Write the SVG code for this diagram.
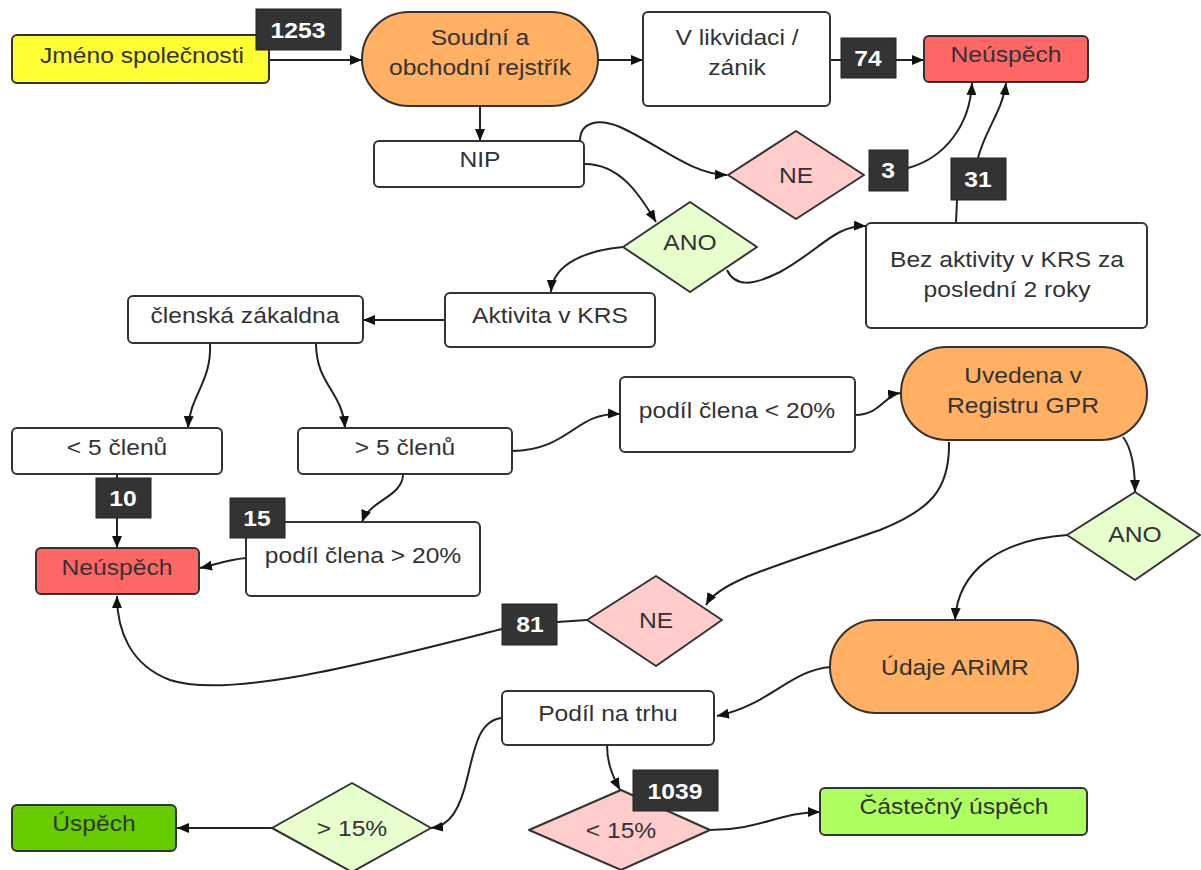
<svg xmlns="http://www.w3.org/2000/svg" width="1201" height="870" viewBox="0 0 1201 870">
<defs>
<marker id="ah" viewBox="0 0 12 10" refX="12" refY="5" markerWidth="12" markerHeight="10" markerUnits="userSpaceOnUse" orient="auto">
<path d="M0,0 L12,5 L0,10 Z" fill="#111"/>
</marker>
<style>
.n{stroke:#333;stroke-width:2;stroke-linejoin:round}
.w{fill:#fff}
.t{font-family:"Liberation Sans",Arial,sans-serif;font-size:22px;fill:#333;text-anchor:middle}
.lb{fill:#333;stroke:#222;stroke-width:1}
.lt{font-family:"Liberation Sans",Arial,sans-serif;font-size:22px;font-weight:bold;fill:#fff;text-anchor:middle}
.c{fill:none;stroke:#222;stroke-width:2}
.a{marker-end:url(#ah)}
</style>
</defs>
<rect width="1201" height="870" fill="#fff"/>
<g id="connectors">
<path class="c a" d="M269,60 L362,60"/>
<path class="c a" d="M598,60 L643,60"/>
<path class="c a" d="M830,60 L924,60"/>
<path class="c a" d="M480,106 L480,141"/>
<path class="c a" d="M580,141 C580,122 598,118 620,127 C660,145 690,174 727,175"/>
<path class="c a" d="M908,168 C945,158 970,125 972,83"/>
<path class="c" d="M956,223 L957,200"/>
<path class="c a" d="M978,158 C985,130 1003,110 1006,83"/>
<path class="c a" d="M585,164 C620,164 640,195 656,222"/>
<path class="c a" d="M727,270 C735,287 752,286 780,272 C820,250 835,225 866,226"/>
<path class="c a" d="M623,247 C590,250 553,262 551,292"/>
<path class="c a" d="M445,320 L363,320"/>
<path class="c a" d="M210,343 C212,382 190,395 188,428"/>
<path class="c a" d="M316,343 C316,385 342,390 345,428"/>
<path class="c a" d="M117,475 L117,548"/>
<path class="c a" d="M403,475 C402,497 370,500 362,522"/>
<path class="c a" d="M246,558 C225,560 215,565 200,568"/>
<path class="c a" d="M512,451 C570,450 575,412 620,414"/>
<path class="c a" d="M855,415 C880,415 885,395 900,393"/>
<path class="c a" d="M1123,437 C1133,450 1135,470 1135,492"/>
<path class="c a" d="M949,442 C950,490 930,510 880,530 C780,565 720,580 706,605"/>
<path class="c a" d="M1067,535 C1000,540 958,570 955,620"/>
<path class="c" d="M587,620 L557,622"/>
<path class="c a" d="M502,629 C380,660 230,700 170,680 C130,665 117,630 117,596"/>
<path class="c a" d="M831,667 C790,670 770,705 717,716"/>
<path class="c a" d="M607,745 C607,762 612,775 620,790"/>
<path class="c a" d="M502,718 C480,720 475,745 468,775 C460,810 450,826 431,828"/>
<path class="c a" d="M710,830 C760,830 780,812 820,812"/>
<path class="c a" d="M272,828 L177,828"/>
</g>
<g id="jmeno"><rect class="n" x="12" y="35" width="257" height="48" rx="5" fill="#ffff33"/><text class="t" transform="translate(142,63) scale(1.12,1)">Jméno společnosti</text></g>
<g id="soudni"><rect class="n" x="362" y="12" width="236" height="94" rx="47" fill="#ffb062"/><text class="t" transform="translate(480,45) scale(1.12,1)">Soudní a</text><text class="t" transform="translate(480,75) scale(1.12,1)">obchodní rejstřík</text></g>
<g id="likvidace"><rect class="n w" x="643" y="12" width="187" height="94" rx="5"/><text class="t" transform="translate(737,45) scale(1.12,1)">V likvidaci /</text><text class="t" transform="translate(737,75) scale(1.12,1)">zánik</text></g>
<g id="neuspech1"><rect class="n" x="924" y="36" width="164" height="46" rx="5" fill="#ff6666"/><text class="t" transform="translate(1006,62) scale(1.12,1)">Neúspěch</text></g>
<g id="nip"><rect class="n w" x="374" y="141" width="210" height="46" rx="5"/><text class="t" transform="translate(480,167) scale(1.12,1)">NIP</text></g>
<g id="ne1"><path class="n" d="M728,175 L796,131 L864,175 L796,219 Z" fill="#ffcccc"/><text class="t" transform="translate(796,183) scale(1.12,1)">NE</text></g>
<g id="ano1"><path class="n" d="M623,247 L690,202 L757,247 L690,292 Z" fill="#e6ffcc"/><text class="t" transform="translate(690,250) scale(1.12,1)">ANO</text></g>
<g id="bez"><rect class="n w" x="866" y="223" width="281" height="105" rx="5"/><text class="t" transform="translate(1007,267) scale(1.12,1)">Bez aktivity v KRS za</text><text class="t" transform="translate(1007,297) scale(1.12,1)">poslední 2 roky</text></g>
<g id="aktivita"><rect class="n w" x="445" y="293" width="210" height="54" rx="5"/><text class="t" transform="translate(550,323) scale(1.12,1)">Aktivita v KRS</text></g>
<g id="clenska"><rect class="n w" x="128" y="296" width="235" height="47" rx="5"/><text class="t" transform="translate(245,323) scale(1.12,1)">členská zákaldna</text></g>
<g id="mene5"><rect class="n w" x="12" y="428" width="210" height="46" rx="5"/><text class="t" transform="translate(117,455) scale(1.12,1)">&lt; 5 členů</text></g>
<g id="vice5"><rect class="n w" x="298" y="428" width="214" height="46" rx="5"/><text class="t" transform="translate(405,455) scale(1.12,1)">&gt; 5 členů</text></g>
<g id="neuspech2"><rect class="n" x="36" y="548" width="163" height="46" rx="5" fill="#ff6666"/><text class="t" transform="translate(117,575) scale(1.12,1)">Neúspěch</text></g>
<g id="podil20v"><rect class="n w" x="246" y="522" width="234" height="74" rx="5"/><text class="t" transform="translate(363,563) scale(1.12,1)">podíl člena &gt; 20%</text></g>
<g id="podil20m"><rect class="n w" x="620" y="377" width="235" height="75" rx="5"/><text class="t" transform="translate(737,418) scale(1.12,1)">podíl člena &lt; 20%</text></g>
<g id="uvedena"><rect class="n" x="901" y="347" width="246" height="93" rx="46" fill="#ffb062"/><text class="t" transform="translate(1023,383) scale(1.12,1)">Uvedena v</text><text class="t" transform="translate(1023,413) scale(1.12,1)">Registru GPR</text></g>
<g id="ano2"><path class="n" d="M1067,535 L1135,492 L1200,535 L1135,580 Z" fill="#e6ffcc"/><text class="t" transform="translate(1135,542) scale(1.12,1)">ANO</text></g>
<g id="ne2"><path class="n" d="M587,620 L656,576 L722,620 L656,666 Z" fill="#ffcccc"/><text class="t" transform="translate(656,628) scale(1.12,1)">NE</text></g>
<g id="udaje"><rect class="n" x="830" y="620" width="248" height="93" rx="46" fill="#ffb062"/><text class="t" transform="translate(955,675) scale(1.12,1)">Údaje ARiMR</text></g>
<g id="trh"><rect class="n w" x="502" y="691" width="212" height="54" rx="5"/><text class="t" transform="translate(608,721) scale(1.12,1)">Podíl na trhu</text></g>
<g id="mene15"><path class="n" d="M529,830 L621,790 L710,830 L621,870 Z" fill="#ffcccc"/><text class="t" transform="translate(621,838) scale(1.12,1)">&lt; 15%</text></g>
<g id="vice15"><path class="n" d="M272,828 L352,783 L431,828 L352,872 Z" fill="#e6ffcc"/><text class="t" transform="translate(352,836) scale(1.12,1)">&gt; 15%</text></g>
<g id="uspech"><rect class="n" x="12" y="805" width="164" height="46" rx="5" fill="#66cc00"/><text class="t" transform="translate(94,831) scale(1.12,1)">Úspěch</text></g>
<g id="castecny"><rect class="n" x="820" y="788" width="267" height="47" rx="5" fill="#adff5f"/><text class="t" transform="translate(954,814) scale(1.12,1)">Částečný úspěch</text></g>
<g id="labels">
<rect class="lb" x="256" y="9" width="85" height="41"/><text class="lt" transform="translate(298,38) scale(1.12,1)">1253</text>
<rect class="lb" x="841" y="38" width="55" height="40"/><text class="lt" transform="translate(868,66) scale(1.12,1)">74</text>
<rect class="lb" x="869" y="150" width="39" height="41"/><text class="lt" transform="translate(888,178) scale(1.12,1)">3</text>
<rect class="lb" x="951" y="158" width="55" height="42"/><text class="lt" transform="translate(978,187) scale(1.12,1)">31</text>
<rect class="lb" x="96" y="478" width="55" height="40"/><text class="lt" transform="translate(123,506) scale(1.12,1)">10</text>
<rect class="lb" x="230" y="498" width="55" height="40"/><text class="lt" transform="translate(257,526) scale(1.12,1)">15</text>
<rect class="lb" x="502" y="604" width="55" height="41"/><text class="lt" transform="translate(530,632) scale(1.12,1)">81</text>
<rect class="lb" x="633" y="770" width="85" height="41"/><text class="lt" transform="translate(675,799) scale(1.12,1)">1039</text>
</g>
</svg>
